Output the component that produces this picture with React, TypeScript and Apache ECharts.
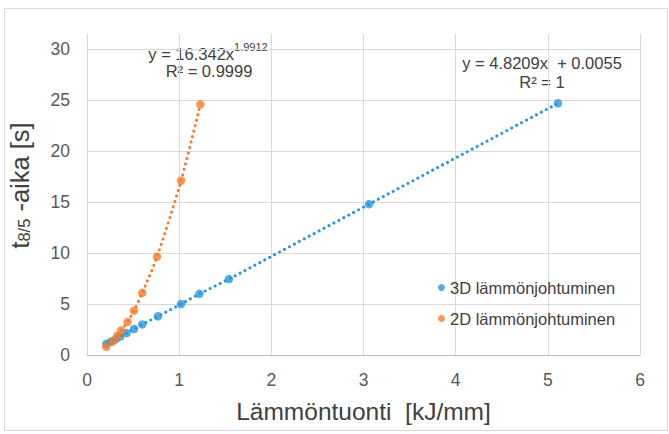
import React, { useEffect, useRef } from "react";
import * as echarts from "echarts";

const SERIES_3D = "3D lämmönjohtuminen";
const SERIES_2D = "2D lämmönjohtuminen";

const X_3D = [0.21, 0.26, 0.31, 0.36, 0.43, 0.51, 0.6, 0.77, 1.02, 1.22, 1.54, 3.06, 5.11];
const Y_3D = [1.1, 1.3, 1.55, 1.8, 2.15, 2.55, 3.0, 3.8, 5.0, 6.0, 7.45, 14.8, 24.7];

const X_2D = [0.21, 0.28, 0.33, 0.37, 0.44, 0.51, 0.6, 0.76, 1.02, 1.23];
const Y_2D = [0.8, 1.35, 1.9, 2.4, 3.25, 4.35, 6.1, 9.65, 17.1, 24.6];

const EQ_2D = "y = 16.342x";
const EQ_2D_EXP = "1.9912";
const R2_2D = "R² = 0.9999";
const EQ_3D = "y = 4.8209x  + 0.0055";
const R2_3D = "R² = 1";

const X_NAME = "Lämmöntuonti  [kJ/mm]";

const BLUE = "#2B96DA";
const ORANGE = "#F67C2D";
const FONT = "'Liberation Sans', Arial, sans-serif";

export default function App() {
  const ref = useRef<HTMLDivElement>(null);
  useEffect(() => {
    if (!ref.current) return;
    const chart = echarts.init(ref.current, undefined, { renderer: "svg" });
    const d3 = X_3D.map((x, i) => [x, Y_3D[i]]);
    const d2 = X_2D.map((x, i) => [x, Y_2D[i]]);
    const dotted = (c: string) => ({
      color: c,
      width: 3,
      type: [0.1, 5.5] as any,
      cap: "round" as const,
    });
    chart.setOption({
      animation: false,
      backgroundColor: "#ffffff",
      textStyle: { fontFamily: FONT },
      grid: { left: 87, right: 29, top: 34, bottom: 79, containLabel: false, outerBoundsMode: "none" },
      legend: {
        orient: "vertical",
        left: 433,
        top: 274,
        itemWidth: 7,
        itemHeight: 7,
        itemGap: 14,
        icon: "circle",
        data: [SERIES_3D, SERIES_2D],
        textStyle: { fontSize: 16.5, color: "#404040", fontFamily: FONT },
      },
      xAxis: {
        type: "value",
        min: 0,
        max: 6,
        interval: 1,
        name: X_NAME,
        nameLocation: "middle",
        nameGap: 44,
        nameTextStyle: { fontSize: 24.5, color: "#404040", fontFamily: FONT },
        axisLine: { show: true, lineStyle: { color: "#BFBFBF", width: 1 } },
        axisTick: { show: false },
        axisLabel: { fontSize: 17.5, color: "#595959", margin: 16, fontFamily: FONT },
        splitLine: { show: true, lineStyle: { color: "#D9D9D9", width: 1 } },
      },
      yAxis: {
        type: "value",
        min: 0,
        max: 31.5,
        interval: 5,
        name: "{a|t}{b|8/5}{a| -aika [s]}",
        nameLocation: "middle",
        nameRotate: 90,
        nameGap: 55,
        nameTextStyle: {
          fontFamily: FONT,
          padding: [0, 0, 0, 18],
          rich: {
            a: { fontSize: 25.5, lineHeight: 25, color: "#404040", verticalAlign: "top", fontFamily: FONT },
            b: {
              fontSize: 16.5,
              lineHeight: 16,
              color: "#404040",
              verticalAlign: "bottom",
              padding: [14, 0, 0, 0],
              fontFamily: FONT,
            },
          },
        },
        axisLine: { show: false },
        axisTick: { show: false },
        axisLabel: {
          fontSize: 17.5,
          color: "#595959",
          margin: 17,
          fontFamily: FONT,
          formatter: (v: number) => (v % 5 === 0 ? String(v) : ""),
        },
        splitLine: { show: true, showMaxLine: false, lineStyle: { color: "#D9D9D9", width: 1 } },
      },
      graphic: [
        {
          type: "rect",
          shape: { x: 4.5, y: 8.5, width: 663, height: 422 },
          style: { fill: "none", stroke: "#D9D9D9", lineWidth: 1 },
          silent: true,
        },
        {
          type: "text",
          x: 208,
          y: 52,
          style: {
            text: `{m|${EQ_2D}}{s|${EQ_2D_EXP}}`,
            align: "center",
            verticalAlign: "middle",
            fill: "#404040",
            rich: {
              m: { fontSize: 16.5, lineHeight: 21, verticalAlign: "bottom", fill: "#404040", fontFamily: FONT },
              s: { fontSize: 11, lineHeight: 11, verticalAlign: "top", fill: "#404040", fontFamily: FONT },
            },
          },
        },
        {
          type: "text",
          x: 209,
          y: 71,
          style: {
            text: R2_2D,
            align: "center",
            verticalAlign: "middle",
            fill: "#404040",
            fontSize: 16.5,
            fontFamily: FONT,
          },
        },
        {
          type: "text",
          x: 542,
          y: 63,
          style: {
            text: EQ_3D,
            align: "center",
            verticalAlign: "middle",
            fill: "#404040",
            fontSize: 16.5,
            fontFamily: FONT,
          },
        },
        {
          type: "text",
          x: 542,
          y: 82,
          style: {
            text: R2_3D,
            align: "center",
            verticalAlign: "middle",
            fill: "#404040",
            fontSize: 16.5,
            fontFamily: FONT,
          },
        },
      ],
      series: [
        {
          name: SERIES_3D,
          type: "scatter",
          data: d3,
          symbol: "circle",
          symbolSize: 8.5,
          itemStyle: { color: BLUE },
          z: 3,
        },
        {
          name: SERIES_2D,
          type: "scatter",
          data: d2,
          symbol: "circle",
          symbolSize: 8.5,
          itemStyle: { color: ORANGE },
          z: 3,
        },
        {
          name: "trend3D",
          type: "line",
          data: d3,
          showSymbol: false,
          symbol: "none",
          silent: true,
          lineStyle: dotted(BLUE),
          z: 2,
        },
        {
          name: "trend2D",
          type: "line",
          data: d2,
          smooth: 0.3,
          showSymbol: false,
          symbol: "none",
          silent: true,
          lineStyle: dotted(ORANGE),
          z: 2,
        },
      ],
    });
    return () => chart.dispose();
  }, []);
  return (
    <div
      ref={ref}
      style={{ position: "fixed", left: 0, top: 0, width: 669, height: 434, background: "#fff" }}
    />
  );
}
